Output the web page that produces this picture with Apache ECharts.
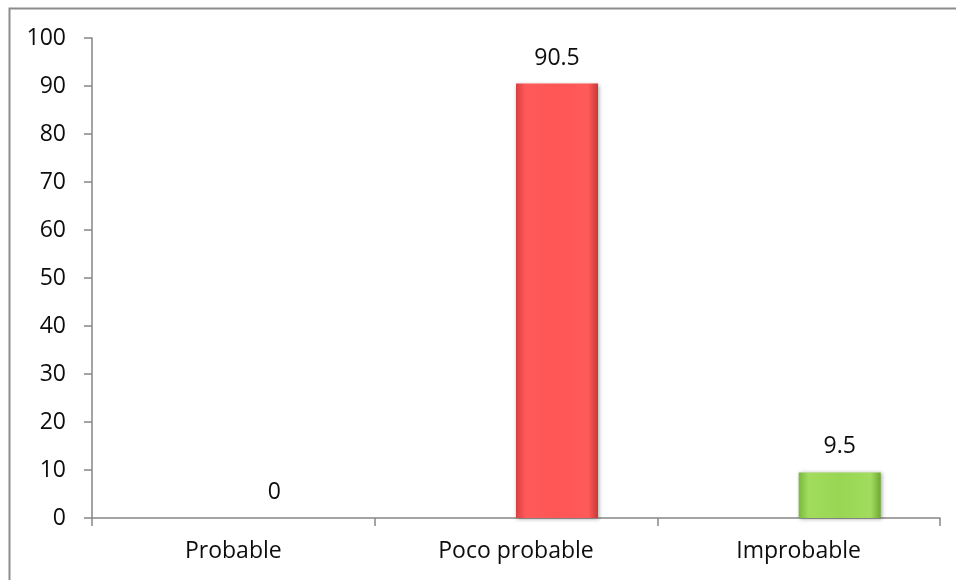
<!DOCTYPE html>
<html>
<head>
<meta charset="utf-8">
<script src="https://cdn.jsdelivr.net/npm/echarts@6/dist/echarts.min.js"></script>
<style>
html,body{margin:0;padding:0;background:#fff;}
#chart{width:956px;height:580px;}
</style>
</head>
<body>
<div id="chart"></div>
<script>
var categories = ['Probable', 'Poco probable', 'Improbable'];
var values = [0, 90.5, 9.5];
var yTicks = [0, 10, 20, 30, 40, 50, 60, 70, 80, 90, 100];

var gradients = {
  red: ['#d94040', '#ff5a5a', '#ff5555', '#ff5a5a', '#c83838'],
  green: ['#78b83c', '#a2dc5e', '#98d654', '#a2dc5e', '#6ea834']
};
var barColorKeys = ['red', 'red', 'green'];

function grad(key) {
  var c = gradients[key];
  return new echarts.graphic.LinearGradient(0, 0, 1, 0, [
    {offset: 0, color: c[0]},
    {offset: 0.12, color: c[1]},
    {offset: 0.5, color: c[2]},
    {offset: 0.88, color: c[3]},
    {offset: 1, color: c[4]}
  ]);
}

var chart = echarts.init(document.getElementById('chart'), null, {renderer: 'canvas'});
var font = '"Open Sans", "Noto Sans", sans-serif';

chart.setOption({
  animation: false,
  backgroundColor: '#ffffff',
  graphic: [{
    type: 'rect',
    shape: {x: 9.5, y: 8.5, width: 1000, height: 700},
    style: {fill: 'none', stroke: '#8c8c8c', lineWidth: 2},
    silent: true
  }],
  grid: {left: 92, right: 16, top: 38, bottom: 62, containLabel: false},
  xAxis: {
    type: 'category',
    data: categories,
    axisLine: {show: true, lineStyle: {color: '#868686', width: 1.5}},
    axisTick: {show: true, length: 8, lineStyle: {color: '#868686', width: 1.5}},
    axisLabel: {color: '#0d0d0d', fontSize: 23, fontFamily: font, margin: 22}
  },
  yAxis: {
    type: 'value',
    min: yTicks[0],
    max: yTicks[yTicks.length - 1],
    interval: 10,
    axisLine: {show: true, lineStyle: {color: '#868686', width: 1.5}},
    axisTick: {show: true, inside: false, length: 8, lineStyle: {color: '#868686', width: 1.5}},
    splitLine: {show: false},
    axisLabel: {color: '#0d0d0d', fontSize: 23, fontFamily: font, margin: 26}
  },
  series: [
    {
      type: 'bar',
      name: 'spacer',
      data: categories.map(function () { return null; }),
      barWidth: 82,
      barGap: '0%',
      silent: true
    },
    {
      type: 'bar',
      name: 'valor',
      barWidth: 82,
      barGap: '0%',
      data: values.map(function (v, i) {
        return {value: v, itemStyle: {color: grad(barColorKeys[i])}};
      }),
      itemStyle: {
        shadowColor: 'rgba(0,0,0,0.35)',
        shadowBlur: 4,
        shadowOffsetX: 1,
        shadowOffsetY: 1
      },
      label: {
        show: true,
        position: 'top',
        distance: 14,
        color: '#0d0d0d',
        fontSize: 23,
        fontFamily: font
      }
    }
  ]
});
</script>
</body>
</html>
